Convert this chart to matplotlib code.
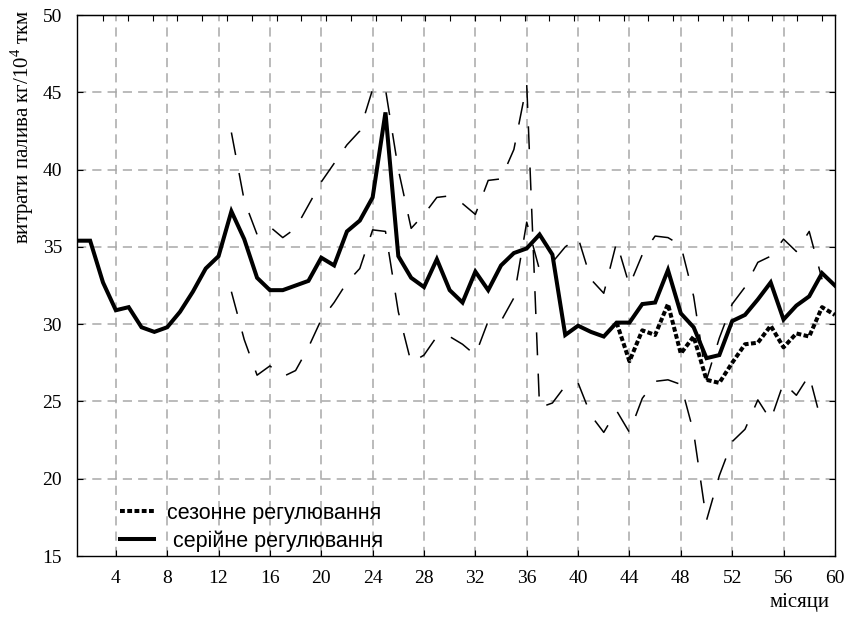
import numpy as np
import matplotlib
matplotlib.use("Agg")
import matplotlib.pyplot as plt

# --- data ------------------------------------------------------------------
months = np.arange(1, 61)
serial = [35.4, 35.4, 32.7, 30.9, 31.1, 29.8, 29.5, 29.8, 30.8, 32.1,
          33.6, 34.4, 37.3, 35.5, 33.0, 32.2, 32.2, 32.5, 32.8, 34.3,
          33.8, 36.0, 36.7, 38.2, 43.7, 34.4, 33.0, 32.4, 34.2, 32.2,
          31.4, 33.4, 32.2, 33.8, 34.6, 34.9, 35.8, 34.5, 29.3, 29.9,
          29.5, 29.2, 30.1, 30.1, 31.3, 31.4, 33.5, 30.7, 29.8, 27.8,
          28.0, 30.2, 30.6, 31.6, 32.7, 30.3, 31.2, 31.8, 33.3, 32.5]

seasonal_months = np.arange(43, 61)
seasonal = [30.1, 27.6, 29.6, 29.3, 31.3, 28.1, 29.2, 26.4, 26.2, 27.5,
            28.7, 28.8, 29.9, 28.5, 29.4, 29.2, 31.1, 30.6]

band_months = np.arange(13, 60)
band_a = [42.4, 38.0, 35.8, 36.3, 35.6, 36.2, 37.7, 39.2, 40.4, 41.6,
          42.5, 45.2, 45.2, 40.0, 36.2, 37.1, 38.2, 38.3, 37.8, 37.1,
          39.3, 39.4, 41.3, 45.5, 24.6, 24.9, 26.0, 26.2, 24.1, 23.0,
          24.4, 23.0, 25.2, 26.3, 26.4, 26.1, 23.0, 17.3, 20.2, 22.4,
          23.2, 25.1, 23.8, 26.2, 25.4, 26.7, 23.5]
band_b = [32.1, 29.0, 26.7, 27.3, 26.6, 27.0, 28.5, 30.3, 31.4, 32.7,
          33.6, 36.1, 36.0, 30.8, 27.5, 28.0, 29.2, 29.2, 28.7, 28.0,
          30.2, 30.2, 31.7, 36.6, 33.5, 34.0, 35.0, 35.6, 32.9, 32.0,
          35.3, 32.5, 34.5, 35.7, 35.6, 35.1, 31.8, 26.4, 29.1, 31.3,
          32.4, 34.0, 34.4, 35.5, 34.7, 36.0, 32.9]

x_ticks = np.arange(4, 61, 4)
y_ticks = np.arange(15, 51, 5)

label_seasonal = "сезонне регулювання"
label_serial = " серійне регулювання"
y_title = "витрати палива кг/10$^4$ ткм"
x_title = "місяци"

# --- figure -----------------------------------------------------------------
serif = ["Liberation Serif", "DejaVu Serif"]
sans = ["Liberation Sans", "DejaVu Sans"]
plt.rcParams["mathtext.fontset"] = "custom"
plt.rcParams["mathtext.rm"] = "Liberation Serif"

fig = plt.figure(figsize=(8.44, 6.28), dpi=100)
ax = fig.add_axes([0.0916, 0.1146, 0.8976, 0.8615])

grid_kw = dict(color="#a8a8a8", lw=1.1, dashes=(6.0, 4.0), zorder=0)
for xv in x_ticks[:-1]:
    ax.axvline(xv, **grid_kw)
for yv in y_ticks[1:-1]:
    ax.axhline(yv, **grid_kw)

band_kw = dict(color="black", lw=1.1, dashes=(15, 12), zorder=2)
ax.plot(band_months, band_a, **band_kw)
ax.plot(band_months, band_b, **band_kw)

ln_seas, = ax.plot(seasonal_months, seasonal, color="black", lw=2.9,
                   dashes=(1.2, 0.6), solid_capstyle="butt",
                   dash_capstyle="butt", zorder=3, label=label_seasonal)
ln_ser, = ax.plot(months, serial, color="black", lw=2.9,
                  solid_joinstyle="miter", zorder=4, label=label_serial)

ax.set_xlim(1, 60)
ax.set_ylim(15, 50)
ax.set_xticks(x_ticks)
ax.set_yticks(y_ticks)
ax.tick_params(axis="both", direction="in", labelsize=14, length=4,
               width=0.8, right=True)
ax.tick_params(axis="x", pad=10)
ax.tick_params(axis="y", pad=11)
for lab in ax.get_xticklabels() + ax.get_yticklabels():
    lab.set_family(serif)
for sp in ax.spines.values():
    sp.set_linewidth(1.0)

top = ax.secondary_xaxis("top")
top.set_xticks(np.linspace(3, 59, 30))
top.tick_params(direction="in", length=4, width=0.8, labeltop=False)

leg = ax.legend(handles=[ln_seas, ln_ser], loc="upper left",
                bbox_to_anchor=(0.045, 0.1145), frameon=False,
                prop={"family": sans, "size": 15.5}, handlelength=1.6,
                handletextpad=0.6, labelspacing=0.3, borderaxespad=0)

fig.text(22 / 844, 1 - 10 / 628, y_title, rotation=90, ha="center",
         va="top", fontsize=15, family=serif)
fig.text(800 / 844, 1 - 602 / 628, x_title, ha="center", va="center",
         fontsize=15, family=serif)

fig.savefig("out.png", dpi=100)
